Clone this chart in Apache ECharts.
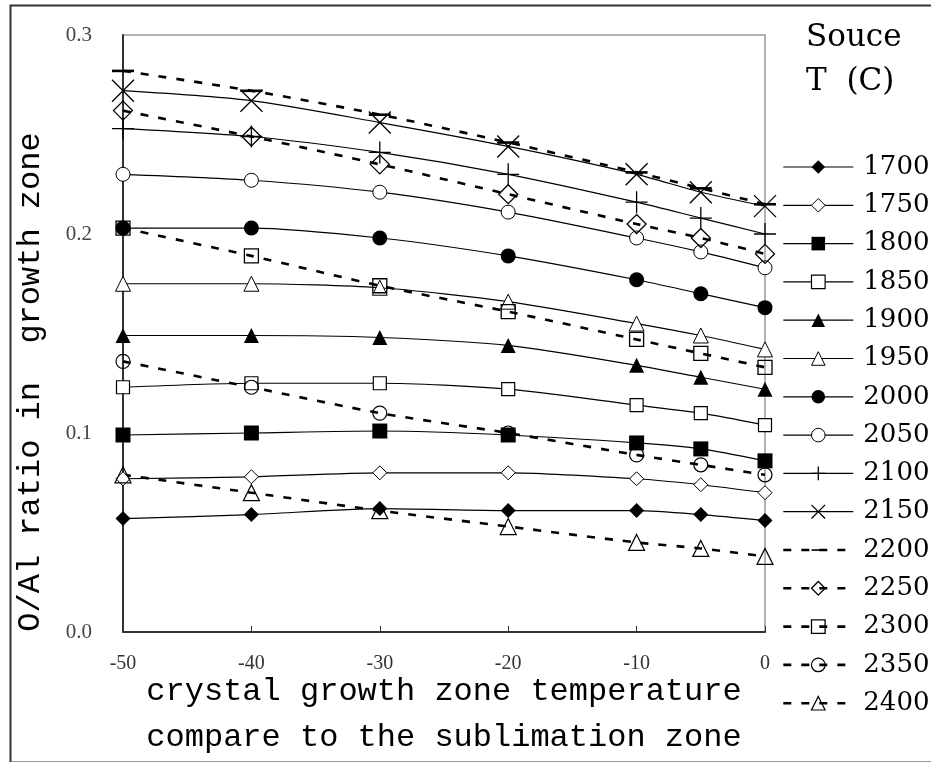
<!DOCTYPE html>
<html>
<head>
<meta charset="utf-8">
<script src="https://cdn.jsdelivr.net/npm/echarts@6/dist/echarts.min.js"></script>
<style>
html,body{margin:0;padding:0;background:#fff;}
#chart{width:931px;height:762px;}
</style>
</head>
<body>
<div id="chart"></div>
<script>
// ---- data ----
const xValues = [-50, -40, -30, -20, -10, -5, 0];
const xTicks = [-50, -40, -30, -20, -10, 0];
const yTicks = [0.0, 0.1, 0.2, 0.3];
const seriesNames = ['1700','1750','1800','1850','1900','1950','2000','2050','2100','2150','2200','2250','2300','2350','2400'];
const s1700 = [0.057, 0.059, 0.062, 0.061, 0.061, 0.059, 0.056];
const s1750 = [0.077, 0.078, 0.080, 0.080, 0.077, 0.074, 0.070];
const s1800 = [0.099, 0.100, 0.101, 0.099, 0.095, 0.092, 0.086];
const s1850 = [0.123, 0.125, 0.125, 0.122, 0.114, 0.110, 0.104];
const s1900 = [0.149, 0.149, 0.148, 0.144, 0.134, 0.128, 0.122];
const s1950 = [0.175, 0.175, 0.173, 0.166, 0.155, 0.149, 0.142];
const s2000 = [0.203, 0.203, 0.198, 0.189, 0.177, 0.170, 0.163];
const s2050 = [0.230, 0.227, 0.221, 0.211, 0.198, 0.191, 0.183];
const s2100 = [0.253, 0.249, 0.241, 0.230, 0.216, 0.208, 0.200];
const s2150 = [0.272, 0.267, 0.256, 0.244, 0.230, 0.221, 0.214];
const s2200 = [0.282, 0.272, 0.260, 0.246, 0.231, 0.223, 0.215];
const s2250 = [0.262, 0.249, 0.235, 0.220, 0.205, 0.198, 0.190];
const s2300 = [0.203, 0.189, 0.174, 0.161, 0.147, 0.140, 0.133];
const s2350 = [0.136, 0.123, 0.110, 0.100, 0.089, 0.084, 0.079];
const s2400 = [0.079, 0.070, 0.061, 0.053, 0.045, 0.042, 0.038];
const seriesValues = [s1700,s1750,s1800,s1850,s1900,s1950,s2000,s2050,s2100,s2150,s2200,s2250,s2300,s2350,s2400];
const yTitle = 'O/Al ratio in  growth zone';
const xTitle = 'crystal growth zone temperature\ncompare to the sublimation zone';
const legendTitle = 'Souce\nT  (C)';

// ---- styles ----
const PLUS = 'path://M11 0L11 22M0 11L22 11';
const CROSS = 'path://M0 0L22 22M22 0L0 22';
const DASH = 'path://M0 0M0 22M0 9.8L22 9.8L22 12.4L0 12.4Z';
const markerStyles = [
  {symbol:'diamond', size:15, fill:'#000', border:null},
  {symbol:'diamond', size:14, fill:'#fff', border:1},
  {symbol:'rect', size:15, fill:'#000', border:null},
  {symbol:'rect', size:13, fill:'#fff', border:1.2},
  {symbol:'triangle', size:15, fill:'#000', border:null},
  {symbol:'triangle', size:15, fill:'#fff', border:1},
  {symbol:'circle', size:15, fill:'#000', border:null},
  {symbol:'circle', size:14, fill:'#fff', border:1},
  {symbol:PLUS, size:22, fill:'none', border:1.3},
  {symbol:CROSS, size:22, fill:'none', border:1.3},
  {symbol:DASH, size:22, fill:'#000', border:null},
  {symbol:'diamond', size:19, fill:'rgba(255,255,255,0)', border:1.3},
  {symbol:'rect', size:14, fill:'rgba(255,255,255,0)', border:1.3},
  {symbol:'circle', size:14, fill:'rgba(255,255,255,0)', border:1.2},
  {symbol:'triangle', size:16, fill:'rgba(255,255,255,0)', border:1.2}
];

const series = seriesNames.map(function(name, i){
  const m = markerStyles[i];
  const dashed = i >= 10;
  const itemStyle = {color: m.fill};
  if (m.border) { itemStyle.borderColor = '#000'; itemStyle.borderWidth = m.border; }
  return {
    name: name,
    type: 'line',
    data: xValues.map(function(x, k){ return [x, seriesValues[i][k]]; }),
    symbol: m.symbol,
    symbolSize: m.size,
    showAllSymbol: true,
    smooth: 0.25,
    color: '#000',
    lineStyle: dashed ? {color:'#000', width:2.6, type:[8,10]} : {color:'#000', width:1.2, type:'solid'},
    itemStyle: itemStyle,
    emphasis: {disabled: true},
    animation: false
  };
});

const chart = echarts.init(document.getElementById('chart'), null, {renderer:'canvas'});
chart.setOption({
  backgroundColor: '#fff',
  animation: false,
  title: {
    text: legendTitle,
    left: 806, top: 16, padding: 0,
    textStyle: {fontFamily:'DejaVu Serif', fontSize:31, fontWeight:'normal', color:'#000', lineHeight:44}
  },
  grid: {left:123, right:166, top:35, bottom:130, show:true, borderColor:'#999', borderWidth:1.5,
    backgroundColor:'transparent', containLabel:false, outerBoundsMode:'none'},
  xAxis: {
    type: 'value', min: -50, max: 0, interval: 10,
    axisLine: {show:true, onZero:false, lineStyle:{color:'#333', width:2}},
    axisTick: {show:true, inside:true, length:6, lineStyle:{color:'#333', width:1}},
    splitLine: {show:false},
    axisLabel: {margin:22, fontFamily:'Liberation Serif', fontSize:20, color:'#333',
      formatter: function(v){ return xTicks.indexOf(v) >= 0 ? String(v) : ''; }},
    name: xTitle,
    nameLocation: 'middle',
    nameGap: 37,
    nameMoveOverlap: false,
    nameTextStyle: {fontFamily:'Liberation Mono', fontSize:32, color:'#000', lineHeight:46}
  },
  yAxis: {
    type: 'value', min: 0, max: 0.3, interval: 0.1,
    axisLine: {show:true, onZero:false, lineStyle:{color:'#333', width:2}},
    axisTick: {show:false},
    splitLine: {show:false},
    axisLabel: {margin:31, fontFamily:'Liberation Serif', fontSize:21, color:'#444',
      formatter: function(v){ const t = yTicks.find(function(y){ return Math.abs(y - v) < 1e-9; }); return t === undefined ? '' : t.toFixed(1); }}
  },
  legend: {
    orient: 'vertical',
    left: 782, top: 154, padding: 0,
    itemWidth: 70, itemHeight: 17, itemGap: 12.3,
    data: seriesNames,
    selectedMode: false,
    textStyle: {fontFamily:'DejaVu Serif', fontSize:26, color:'#000', padding:[0,0,0,5]},
    itemStyle: {borderWidth:'inherit'},
    lineStyle: {width:'inherit'}
  },
  graphic: [
    {type:'rect', left:8, top:3, z:-10, silent:true,
      shape:{x:0, y:0, width:930, height:757},
      style:{fill:'none', stroke:'#333', lineWidth:2}},
    {type:'text', silent:true,
      x: 31, y: 382, rotation: Math.PI/2,
      style:{text: yTitle, font:'32px "Liberation Mono"', fill:'#000', align:'center', verticalAlign:'middle'}}
  ],
  series: series
});
</script>
</body>
</html>
